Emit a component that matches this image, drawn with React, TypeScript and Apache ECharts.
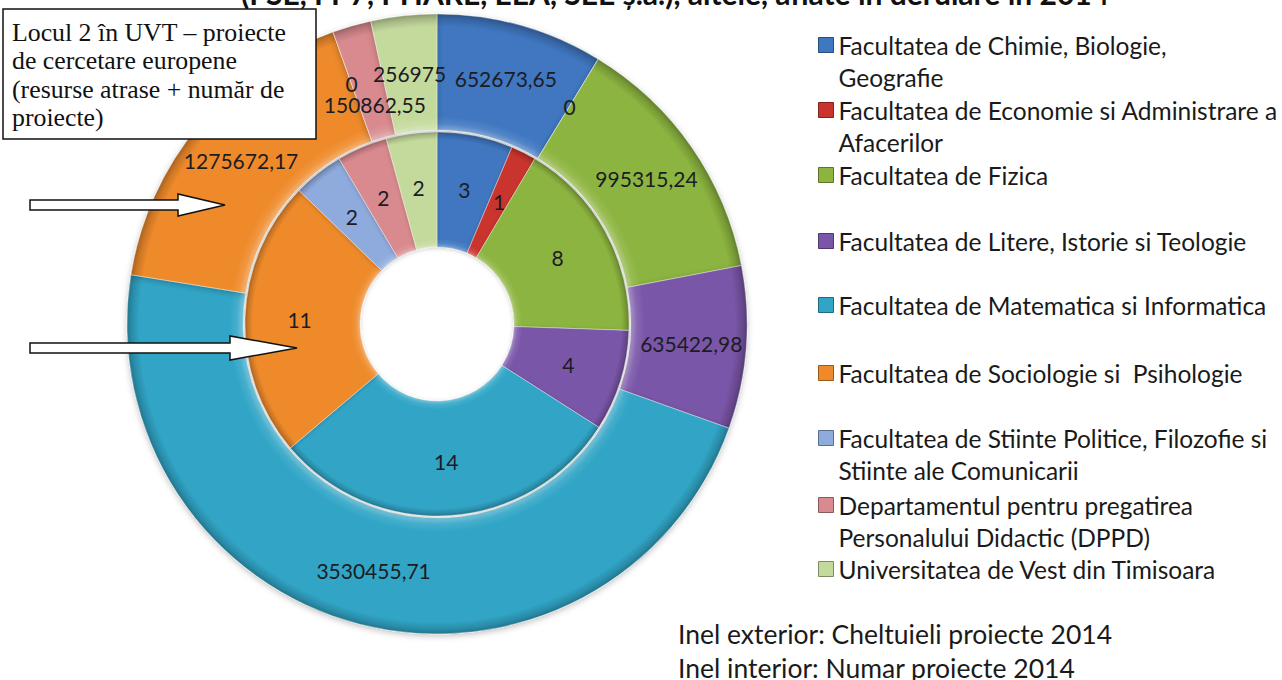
import React, { useEffect, useRef } from "react";
import * as echarts from "echarts";

// ---------- data ----------
const categories = [
  "Facultatea de Chimie, Biologie, Geografie",
  "Facultatea de Economie si Administrare a Afacerilor",
  "Facultatea de Fizica",
  "Facultatea de Litere, Istorie si Teologie",
  "Facultatea de Matematica si Informatica",
  "Facultatea de Sociologie si  Psihologie",
  "Facultatea de Stiinte Politice, Filozofie si Stiinte ale Comunicarii",
  "Departamentul pentru pregatirea Personalului Didactic (DPPD)",
  "Universitatea de Vest din Timisoara",
];
const legendLabels = [
  "Facultatea de Chimie, Biologie,\nGeografie",
  "Facultatea de Economie si Administrare a\nAfacerilor",
  "Facultatea de Fizica",
  "Facultatea de Litere, Istorie si Teologie",
  "Facultatea de Matematica si Informatica",
  "Facultatea de Sociologie si  Psihologie",
  "Facultatea de Stiinte Politice, Filozofie si\nStiinte ale Comunicarii",
  "Departamentul pentru pregatirea\nPersonalului Didactic (DPPD)",
  "Universitatea de Vest din Timisoara",
];
// Inel exterior: Cheltuieli proiecte 2014
const cheltuieliProiecte2014 = [652673.65, 0, 995315.24, 635422.98, 3530455.71, 1275672.17, 0, 150862.55, 256975];
// Inel interior: Numar proiecte 2014
const numarProiecte2014 = [3, 1, 8, 4, 14, 11, 2, 2, 2];

const titleText = "(FSE, FP7, PHARE, EEA, SEE ș.a.), altele, aflate in derulare in 2014";
const annotationText = "Locul 2 în UVT – proiecte\nde cercetare europene\n(resurse atrase + număr de\nproiecte)";
const footerLines = ["Inel exterior: Cheltuieli proiecte 2014", "Inel interior: Numar proiecte 2014"];

// ---------- styles / layout ----------
const colors = ["#3F77C0", "#C9342E", "#8CB43F", "#7A56A8", "#31A5C6", "#EE8A2B", "#8FAADC", "#D98A8E", "#C4D99C"];
const legendRowY = [45, 110, 175, 241, 305, 373, 438, 505, 569];
const CX = 437;
const CY = 324;
const FONT = "Lato, 'Open Sans', sans-serif";

function shade(hex: string, amt: number): string {
  const n = parseInt(hex.slice(1), 16);
  let r = (n >> 16) & 255, g = (n >> 8) & 255, b = n & 255;
  const t = amt < 0 ? 0 : 255;
  const p = Math.abs(amt);
  r = Math.round(r + (t - r) * p);
  g = Math.round(g + (t - g) * p);
  b = Math.round(b + (t - b) * p);
  return "rgb(" + r + "," + g + "," + b + ")";
}

function ringGradient(color: string, r: number, r0: number) {
  const s = r0 / r;
  return new echarts.graphic.RadialGradient(CX, CY, r, [
    { offset: 0, color: shade(color, 0.35) },
    { offset: s, color: shade(color, 0.35) },
    { offset: s + 0.02, color: shade(color, 0.1) },
    { offset: s + 0.045, color: color },
    { offset: 0.96, color: color },
    { offset: 0.985, color: shade(color, -0.15) },
    { offset: 1, color: shade(color, -0.3) },
  ], true);
}

const fmt = (v: number) => String(v).replace(".", ",");

function arrow(x0: number, x1: number, xh: number, yc: number, sh: number, hh: number) {
  return [
    [x0, yc - sh], [x1, yc - sh], [x1, yc - hh], [xh, yc], [x1, yc + hh], [x1, yc + sh], [x0, yc + sh],
  ];
}

export default function App() {
  const ref = useRef<HTMLDivElement>(null);
  useEffect(() => {
    if (!ref.current) return;
    const chart = echarts.init(ref.current, undefined, { renderer: "svg" });
    const labelStyle = { show: true, position: "inside", fontFamily: FONT, fontSize: 21, color: "#1c1c24" };
    const option: any = {
      animation: false,
      backgroundColor: "#ffffff",
      legend: categories.map((name, i) => {
        const two = legendLabels[i].indexOf("\n") >= 0;
        return {
          left: 818,
          top: legendRowY[i] - (two ? 48 : 16),
          orient: "vertical",
          padding: 0,
          itemWidth: 15,
          itemHeight: 15,
          itemGap: 0,
          icon: "rect",
          selectedMode: false,
          data: [{ name, itemStyle: { color: colors[i], borderColor: shade(colors[i], -0.35), borderWidth: 1 } }],
          formatter: () => (two ? "\n" + legendLabels[i] : legendLabels[i]),
          textStyle: { fontFamily: FONT, fontSize: 24.5, color: "#1a1a1a", lineHeight: 32 },
        };
      }),
      series: [
        {
          name: "Cheltuieli proiecte 2014",
          type: "pie",
          center: [CX, CY],
          radius: [194, 310],
          startAngle: 90,
          clockwise: true,
          avoidLabelOverlap: false,
          silent: true,
          label: { ...labelStyle, formatter: (p: any) => fmt(p.value) },
          labelLine: { show: false },
          labelLayout: (p: any) => (p.dataIndex === 7 ? { dx: 8, dy: 26 } : p.dataIndex === 8 ? { dy: 3 } : {}),
          itemStyle: { borderColor: "rgba(255,255,255,0.35)", borderWidth: 1, shadowBlur: 6, shadowColor: "rgba(0,0,0,0.25)", shadowOffsetY: 2 },
          data: categories.map((name, i) => ({
            name,
            value: cheltuieliProiecte2014[i],
            itemStyle: { color: ringGradient(colors[i], 310, 194) },
          })),
        },
        {
          name: "Numar proiecte 2014",
          type: "pie",
          center: [CX, CY],
          radius: [77, 192],
          startAngle: 90,
          clockwise: true,
          avoidLabelOverlap: false,
          silent: true,
          label: { ...labelStyle, formatter: (p: any) => fmt(p.value) },
          labelLine: { show: false },
          itemStyle: { borderColor: "rgba(255,255,255,0.35)", borderWidth: 1, shadowBlur: 4, shadowColor: "rgba(0,0,0,0.2)", shadowOffsetY: 1 },
          data: categories.map((name, i) => ({
            name,
            value: numarProiecte2014[i],
            itemStyle: { color: ringGradient(colors[i], 192, 77) },
          })),
        },
      ],
      graphic: [
        {
          type: "text", x: 241, y: -7.5, z: 10,
          style: { text: titleText, fontFamily: FONT, fontWeight: "bold", fontSize: 30, fill: "#111", align: "left", verticalAlign: "middle" },
        },
        {
          type: "rect", z: 10,
          shape: { x: 3, y: 9, width: 313, height: 130 },
          style: { fill: "#ffffff", stroke: "#111", lineWidth: 1.5 },
        },
        {
          type: "text", x: 12, y: 18, z: 11,
          style: { text: annotationText, fontFamily: "'Liberation Serif', 'Times New Roman', serif", fontSize: 25.8, lineHeight: 28.5, fill: "#111", align: "left", verticalAlign: "top" },
        },
        {
          type: "polygon", z: 10,
          shape: { points: arrow(30, 178, 225, 205, 5, 11) },
          style: { fill: "#ffffff", stroke: "#111", lineWidth: 1.5 },
        },
        {
          type: "polygon", z: 10,
          shape: { points: arrow(30, 230, 297, 348, 5, 12) },
          style: { fill: "#ffffff", stroke: "#111", lineWidth: 1.5 },
        },
        {
          type: "text", x: 678, y: 634, z: 10,
          style: { text: footerLines[0], fontFamily: FONT, fontSize: 26.5, fill: "#1a1a1a", align: "left", verticalAlign: "middle" },
        },
        {
          type: "text", x: 678, y: 668, z: 10,
          style: { text: footerLines[1], fontFamily: FONT, fontSize: 26.5, fill: "#1a1a1a", align: "left", verticalAlign: "middle" },
        },
      ],
    };
    chart.setOption(option);
    return () => chart.dispose();
  }, []);
  return <div ref={ref} style={{ position: "absolute", left: 0, top: 0, width: 1282, height: 680, background: "#fff" }} />;
}
